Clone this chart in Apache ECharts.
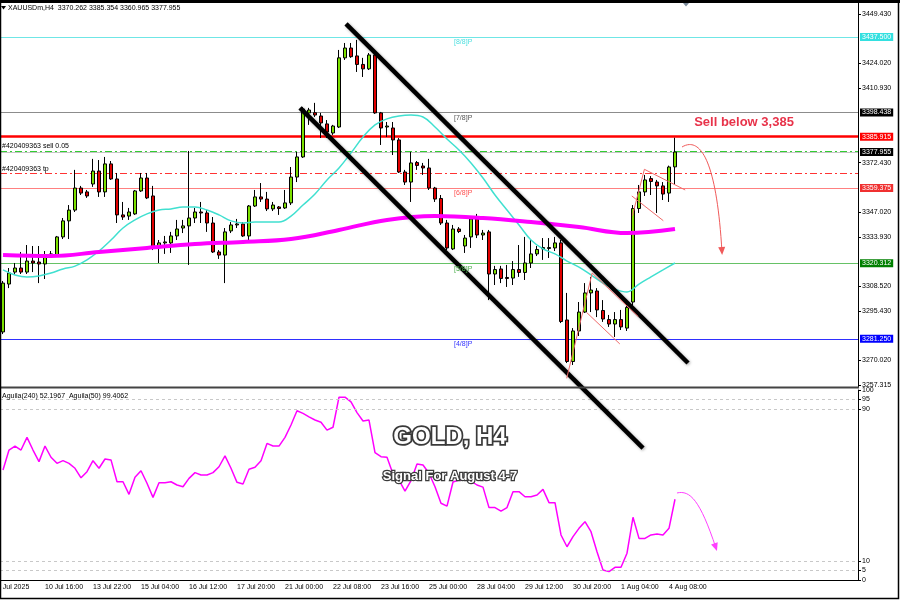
<!DOCTYPE html>
<html><head><meta charset="utf-8">
<script src="https://cdn.jsdelivr.net/npm/echarts@6/dist/echarts.min.js"></script>
<style>html,body{margin:0;padding:0;background:#fff}#c{width:900px;height:600px}</style>
</head><body><div id="c"></div>
<script>
// ---------- DATA ----------
const openP = [3284.8,3309.6,3315.8,3317.9,3315.8,3321.5,3321.0,3320.0,3324.1,3324.1,
3334.0,3342.3,3347.9,3359.3,3357.3,3361.4,3368.1,3357.3,3371.8,3364.0,
3345.4,3344.8,3345.9,3357.8,3364.5,3355.2,3329.3,3330.9,3330.9,3334.5,
3338.6,3339.7,3343.8,3346.9,3346.4,3341.2,3326.2,3324.6,3337.1,3340.2,
3340.7,3334.5,3350.0,3354.7,3353.6,3348.5,3349.5,3349.0,3351.6,3365.0,
3375.4,3398.2,3398.3,3396.6,3392.5,3387.8,3390.9,3426.7,3431.8,3427.7,
3423.3,3421.0,3428.2,3398.2,3390.9,3390.4,3384.2,3367.6,3362.4,3372.5,
3370.7,3369.7,3359.3,3353.9,3341.2,3327.8,3338.1,3329.3,3334.0,3343.3,
3335.0,3336.6,3314.8,3317.4,3313.0,3312.7,3317.1,3315.6,3320.5,3325.2,
3327.8,3328.0,3328.3,3330.9,3291.0,3269.5,3285.3,3295.1,3305.0,3306.0,
3295.9,3291.2,3288.9,3291.2,3286.8,3300.3,3348.7,3357.3,3364.2,3362.4,
3360.4,3356.7,3370.262];
const closeP = [3310.1,3315.3,3317.9,3315.8,3321.5,3320.5,3320.0,3324.6,3325.2,3334.0,
3342.3,3347.9,3359.3,3356.7,3355.2,3368.1,3357.3,3371.8,3364.0,3345.4,
3344.3,3346.9,3357.8,3364.5,3354.2,3328.8,3330.9,3331.4,3334.5,3338.1,
3339.7,3343.8,3346.9,3346.4,3341.2,3326.2,3324.6,3336.6,3340.2,3340.7,
3334.5,3350.0,3354.7,3353.6,3348.5,3350.5,3348.7,3351.6,3365.0,3375.4,
3400.2,3399.7,3397.1,3393.0,3388.3,3391.4,3426.7,3431.8,3427.3,3423.3,
3421.0,3428.2,3398.2,3390.4,3391.4,3384.2,3367.6,3362.4,3372.3,3371.0,
3369.7,3359.3,3353.6,3341.2,3328.3,3338.1,3336.8,3333.4,3343.3,3335.0,
3336.0,3314.8,3317.1,3312.5,3312.5,3317.1,3315.6,3320.5,3325.2,3327.5,
3328.5,3328.5,3330.9,3290.2,3269.5,3285.3,3295.1,3305.0,3306.5,3296.2,
3291.5,3288.9,3291.2,3287.4,3297.5,3348.7,3357.3,3363.5,3362.7,3360.4,
3356.2,3370.2,3377.955];
const highP = [3311.2,3317.9,3320.5,3326.2,3329.8,3329.3,3329.3,3326.7,3326.7,3334.5,
3343.8,3350.5,3368.7,3360.4,3358.3,3374.4,3373.8,3375.4,3373.3,3367.1,
3352.1,3349.0,3358.3,3367.1,3367.1,3360.4,3332.4,3334.5,3336.6,3342.8,
3342.8,3378.5,3349.0,3352.1,3347.9,3344.3,3327.2,3338.6,3341.7,3343.3,
3341.7,3350.5,3358.3,3361.9,3357.3,3352.1,3350.0,3358.3,3370.2,3378.0,
3401.3,3400.8,3403.4,3398.2,3394.5,3392.0,3430.8,3434.4,3434.4,3436.0,
3426.7,3429.2,3429.2,3398.7,3393.5,3393.5,3385.2,3368.7,3378.0,3373.3,
3372.3,3374.4,3359.9,3355.7,3342.8,3340.2,3339.1,3335.0,3343.8,3345.9,
3337.6,3337.6,3319.0,3319.0,3319.5,3321.5,3329.8,3334.0,3332.4,3329.3,
3333.4,3333.4,3334.0,3332.4,3305.0,3286.8,3300.3,3310.1,3313.3,3307.5,
3301.3,3293.6,3295.1,3296.2,3299.8,3350.5,3360.9,3366.1,3365.5,3363.5,
3362.4,3370.9,3385.354];
const lowP = [3283.7,3307.5,3314.3,3314.8,3314.8,3315.8,3310.1,3312.2,3323.1,3323.6,
3332.9,3332.9,3346.9,3355.7,3354.2,3359.9,3354.7,3354.7,3363.5,3341.2,
3342.8,3342.8,3345.4,3357.3,3353.6,3327.2,3320.5,3325.2,3325.7,3332.4,
3336.0,3319.5,3341.2,3341.2,3336.6,3325.7,3322.6,3310.1,3336.0,3338.6,
3334.0,3332.4,3349.5,3352.1,3347.4,3347.4,3345.4,3348.5,3350.5,3362.4,
3374.9,3392.0,3396.1,3385.2,3385.2,3386.8,3390.4,3425.6,3426.7,3419.4,
3416.8,3420.4,3397.7,3381.6,3385.7,3376.4,3367.1,3360.9,3352.1,3368.7,
3366.1,3358.3,3352.1,3340.2,3327.2,3327.2,3336.0,3325.7,3328.3,3333.4,
3332.4,3301.3,3309.1,3310.1,3308.1,3309.1,3313.3,3311.7,3317.9,3324.1,
3322.1,3323.1,3326.7,3289.4,3268.7,3267.7,3282.7,3294.6,3295.1,3292.5,
3290.0,3287.4,3282.2,3285.8,3285.3,3297.7,3346.4,3355.2,3355.7,3346.4,
3353.1,3352.1,3360.965];

const maFastIdx = [0,2,4,6,8,10,12,14,16,18,20,22,24,26,28,30,32,34,36,38,40,42,44,46,48,50,52,54,56,58,60,62,64,66,68,70,72,74,76,78,80,82,84,86,88,90,92,94,96,98,100,102,104,106,108,110,112];
const maFastVal = [3316.9,3314.3,3313.3,3313.8,3315.3,3317.4,3318.9,3322.1,3326.7,3332.4,
3338.6,3342.8,3345.9,3347.9,3348.5,3349.5,3349.5,3347.9,3345.4,3342.3,
3341.2,3341.7,3341.7,3341.7,3344.8,3350.5,3356.2,3363.5,3369.7,3377.5,
3385.7,3392.0,3395.1,3396.6,3397.1,3396.1,3390.9,3384.7,3379.0,3372.3,
3364.5,3355.7,3347.9,3340.2,3332.4,3327.8,3325.2,3321.5,3318.4,3314.3,
3310.1,3307.0,3305.5,3309.6,3313.3,3316.9,3320.5];
const maSlowIdx = [0,8,16,24,32,40,48,56,64,72,80,88,96,104,112];
const maSlowVal = [3324.6,3324.1,3326.2,3328.3,3330.3,3331.4,3332.9,3337.6,3342.8,3344.8,3343.8,3341.7,3339.1,3336.0,3338.1];

const oscVal = [57.9,68.4,70.5,68.4,75.1,68.4,62.3,70.5,64.6,61.4,
62.8,61.4,58.8,53.8,57.0,62.8,58.8,63.7,63.2,51.7,
51.7,45.1,54.1,57.5,50.9,43.5,51.2,51.2,51.7,50.0,
49.1,53.5,56.5,55.3,55.3,56.5,59.6,65.3,58.8,51.4,
50.5,58.3,59.3,62.8,71.9,70.5,70.5,75.1,81.6,89.1,
87.7,85.9,84.2,83.0,78.9,80.4,96.2,96.2,93.8,88.1,
83.7,84.2,67.0,64.9,64.6,55.8,52.6,46.8,52.3,61.1,
60.5,56.2,49.1,40.4,38.9,51.6,52.6,52.6,52.1,50.0,
48.9,38.1,38.1,36.3,38.1,46.5,46.5,43.8,43.8,44.7,
47.7,40.7,40.7,23.7,17.5,22.8,27.2,30.7,25.4,14.9,
5.3,4.4,6.7,6.7,14.1,33.0,21.9,21.9,23.7,24.2,
23.7,27.2,42.5];

const priceTicks = [3449.430,3424.020,3410.930,3372.430,3347.020,3333.930,3308.520,3295.430,3270.020,3257.315];
const oscTicks = [0,5,10,90,95,100];
const oscLevels = [5,10,90,95];
const timeLabelIdx = [-1,7,15,23,31,39,47,55,63,71,79,87,95,103,111];
const timeLabelText = ['9 Jul 2025','10 Jul 16:00','13 Jul 22:00','15 Jul 04:00','16 Jul 12:00','17 Jul 20:00','21 Jul 00:00','22 Jul 08:00','23 Jul 16:00','25 Jul 00:00','28 Jul 04:00','29 Jul 12:00','30 Jul 20:00','1 Aug 04:00','4 Aug 08:00'];

const murrayVals = [3437.500,3398.438,3359.375,3320.312,3281.250];
const murrayText = ['[8/8]P','[7/8]P','[6/8]P','[5/8]P','[4/8]P'];
const sellLevel = 3385.915;
const bidPrice = 3377.955;
const orderPrice = 3378.6;
const tpPrice = 3366.9;

// ---------- CHART ----------
const FF = '"Liberation Sans", Arial, sans-serif';
const N = 143;
const cats = Array.from({length:N}, (_, i) => String(i));
const labelMap = new Map();
timeLabelIdx.forEach((ix, k) => { if (ix >= 0) labelMap.set(ix, timeLabelText[k]); });
const candleData = openP.map((o, i) => [o, closeP[i], lowP[i], highP[i]]);

const chart = echarts.init(document.getElementById('c'), null, {renderer:'canvas', width:900, height:600});

function boxLabel(val, bg, fg) {
  const s = val.toFixed(3);
  return {show:true, position:'end', distance:2, formatter: () => s,
    color: fg || '#fff', backgroundColor: bg, padding:[1,2,0,2], fontSize:7, fontFamily:FF};
}
const murrayColors = ['#6FE6E6','#8C8C8C','#FF8080','#66C266','#2F2FFF'];
const murrayBox = ['#33E0E0','#000000','#F03030','#008000','#0000FF'];

const markData = [];
murrayVals.forEach((v, k) => {
  markData.push({yAxis: v, lineStyle:{color: murrayColors[k], width:1, type:'solid'}, label: boxLabel(v, murrayBox[k])});
});
markData.push({yAxis: sellLevel, lineStyle:{color:'#FF0000', width:2.5, type:'solid'}, label: boxLabel(sellLevel, '#FF0000')});
markData.push({yAxis: bidPrice, lineStyle:{color:'#C4C4C4', width:1, type:'solid'}, label: boxLabel(bidPrice, '#000000')});
markData.push({yAxis: orderPrice, lineStyle:{color:'#33CC33', width:1, type:[7,3,2,3]}, label:{show:false}});
markData.push({yAxis: tpPrice, lineStyle:{color:'#FF3333', width:1, type:[7,3,2,3]}, label:{show:false}});

const option = {
  animation: false,
  backgroundColor: '#ffffff',
  textStyle: {fontFamily: FF},
  grid: [
    {left:0, top:3, width:858, height:384},
    {left:0, top:390, width:858, height:190}
  ],
  xAxis: [
    {type:'category', data:cats, gridIndex:0, boundaryGap:true,
     axisLine:{show:false}, axisTick:{show:false}, axisLabel:{show:false}, splitLine:{show:false}},
    {type:'category', data:cats, gridIndex:1, boundaryGap:true,
     axisLine:{show:true, lineStyle:{color:'#000', width:1}}, axisTick:{show:false},
     axisLabel:{show:true, interval:(i) => labelMap.has(i), formatter:(v) => labelMap.get(Number(v)) || '',
       align:'left', fontSize:7, color:'#000', margin:4, fontFamily:FF},
     splitLine:{show:false}}
  ],
  yAxis: [
    {type:'value', gridIndex:0, position:'right', min:3256.3, max:3455.1, scale:true,
     axisLine:{show:true, lineStyle:{color:'#000', width:1}},
     axisTick:{show:true, length:3, inside:false, customValues: priceTicks, lineStyle:{color:'#000'}},
     axisLabel:{show:true, customValues: priceTicks, formatter: v => Number(v).toFixed(3), fontSize:7, color:'#000', margin:4, fontFamily:FF},
     splitLine:{show:false}},
    {type:'value', gridIndex:1, position:'right', min:0, max:100,
     axisLine:{show:true, lineStyle:{color:'#000', width:1}},
     axisTick:{show:true, length:3, customValues: oscTicks, lineStyle:{color:'#000'}},
     axisLabel:{show:true, customValues: oscTicks, fontSize:7, color:'#000', margin:4, fontFamily:FF},
     splitLine:{show:false}}
  ],
  series: [
    {type:'candlestick', xAxisIndex:0, yAxisIndex:0, data: candleData, barWidth:4, z:3,
     itemStyle:{color:'#7CE000', color0:'#E00000', borderColor:'#000', borderColor0:'#000', borderWidth:1},
     markLine:{symbol:'none', silent:true, animation:false, z:2, data: markData}},
    {type:'line', xAxisIndex:0, yAxisIndex:0, data: maFastIdx.map((x, k) => [x, maFastVal[k]]),
     smooth:0.4, symbol:'none', z:4, lineStyle:{color:'#40E0D0', width:1.5}},
    {type:'line', xAxisIndex:0, yAxisIndex:0, data: maSlowIdx.map((x, k) => [x, maSlowVal[k]]),
     smooth:0.4, symbol:'none', z:4, lineStyle:{color:'#FF00FF', width:4}},
    {type:'line', xAxisIndex:1, yAxisIndex:1, data: oscVal, symbol:'none', z:4,
     lineStyle:{color:'#FF00FF', width:1.5},
     markLine:{symbol:'none', silent:true, animation:false,
       data: oscLevels.map(v => ({yAxis:v})), lineStyle:{color:'#C8C8C8', width:1, type:[3,3]}, label:{show:false}}}
  ]
};
chart.setOption(option);

// ---------- ANNOTATIONS (data coords, converted with the chart's scales) ----------
const channelUpper = [[57.17,3444.25],[114.17,3268.72]];
const channelLower = [[49.5,3400.76],[106.67,3224.7]];
const flagLines = [
  [[93.95,3260.8],[98.2,3315.3]],
  [[98.2,3315.3],[105.9,3292.7]],
  [[97.3,3294.8],[102.8,3278.6]],
  [[104.8,3355.2],[110.05,3342.4]],
  [[106.9,3369.0],[113.7,3358.3]],
  [[104.9,3345.0],[106.9,3369.0]]
];
const arrowMain = [[113.17,3380.56],[115.67,3385.22],[118.83,3379.01],[119.83,3326.2]];
const arrowOsc = [[112.33,45.8],[114.5,47.4],[116.17,42.1],[118.83,16.8]];
const sellText = {idx:123.5, price:3393.5, text:'Sell below 3,385'};

const x0 = chart.convertToPixel({xAxisIndex:0}, 0);
const x1 = chart.convertToPixel({xAxisIndex:0}, 1);
const step = x1 - x0;
const P = (d) => [x0 + d[0]*step, chart.convertToPixel({yAxisIndex:0}, d[1])];
const Q = (d) => [x0 + d[0]*step, chart.convertToPixel({yAxisIndex:1}, d[1])];

const g = [];
function seg(a, b, color, w, extra) {
  g.push(Object.assign({type:'line', silent:true, z:100, shape:{x1:a[0],y1:a[1],x2:b[0],y2:b[1]},
    style:{stroke:color, lineWidth:w}}, extra || {}));
}
function txt(x, y, text, st, z) {
  g.push({type:'text', silent:true, z: z || 110, x:x, y:y,
    style: Object.assign({text:text, fill:'#000', fontSize:7, fontFamily:FF, align:'left', verticalAlign:'middle'}, st || {})});
}
function arrow(pts, conv, color) {
  const p = pts.map(conv);
  g.push({type:'bezierCurve', silent:true, z:100,
    shape:{x1:p[0][0], y1:p[0][1], cpx1:p[1][0], cpy1:p[1][1], cpx2:p[2][0], cpy2:p[2][1], x2:p[3][0], y2:p[3][1]},
    style:{stroke:color, lineWidth:1, fill:null}});
  let dx = p[3][0]-p[2][0], dy = p[3][1]-p[2][1];
  const L = Math.hypot(dx, dy); dx /= L; dy /= L;
  const tip = [p[3][0]+dx*3, p[3][1]+dy*3];
  const bc = [p[3][0]-dx*5, p[3][1]-dy*5];
  g.push({type:'polygon', silent:true, z:100,
    shape:{points:[tip, [bc[0]-dy*3.5, bc[1]+dx*3.5], [bc[0]+dy*3.5, bc[1]-dx*3.5]]},
    style:{fill:color}});
}

// channel lines
const chanStyle = {style:{stroke:'#000', lineWidth:4.5, shadowColor:'rgba(0,0,0,0.35)', shadowBlur:3, shadowOffsetX:1, shadowOffsetY:1}};
seg(P(channelUpper[0]), P(channelUpper[1]), '#000', 4.5, chanStyle);
seg(P(channelLower[0]), P(channelLower[1]), '#000', 4.5, chanStyle);
// flag lines
flagLines.forEach(l => seg(P(l[0]), P(l[1]), '#F06A6A', 1));
// arrows
arrow(arrowMain, P, '#F05A5A');
arrow(arrowOsc, Q, '#FF40FF');

// murray labels
const murrayTextColors = ['#4FE0E0','#555555','#FF5050','#4CAF4C','#3333FF'];
murrayVals.forEach((v, k) => {
  const pp = P([75.17, v]);
  txt(pp[0], pp[1] + 5.5, murrayText[k], {fill: murrayTextColors[k]});
});
// order labels
txt(2, P([0, orderPrice])[1] - 5, '#420409363 sell 0.05');
txt(2, P([0, tpPrice])[1] - 4, '#420409363 tp');
// sell text
const sp = P([sellText.idx, sellText.price]);
txt(sp[0], sp[1], sellText.text, {fill:'#E8334A', fontSize:13, fontWeight:'bold', align:'center'});

// headers
txt(8, 8, 'XAUUSDm,H4  3370.262 3385.354 3360.965 3377.955');
g.push({type:'polygon', silent:true, z:110, shape:{points:[[1,6],[6,6],[3.5,9.5]]}, style:{fill:'#000'}});
txt(2, 396.5, 'Aguila(240) 52.1967  Aguila(50) 99.4062');

// big title texts
txt(450, 437, 'GOLD, H4', {fill:'#fff', fontSize:24, fontWeight:'bold', fontFamily:'"Liberation Sans", Arial, sans-serif',
  align:'center', stroke:'#3a3a3a', lineWidth:3.5, strokeFirst:true,
  shadowColor:'rgba(0,0,0,0.55)', shadowBlur:2, shadowOffsetX:2, shadowOffsetY:2}, 120);
txt(450, 476, 'Signal For August 4-7', {fill:'#fff', fontSize:13, fontWeight:'bold',
  align:'center', stroke:'#3a3a3a', lineWidth:2.5, strokeFirst:true,
  shadowColor:'rgba(0,0,0,0.5)', shadowBlur:2, shadowOffsetX:1.5, shadowOffsetY:1.5}, 120);

// first (clipped) time label
txt(x0 + timeLabelIdx[0]*step, 587.5, timeLabelText[0]);

// panel separator and frame
g.push({type:'line', silent:true, z:150, shape:{x1:0, y1:387.5, x2:859, y2:387.5}, style:{stroke:'#444', lineWidth:2}});
g.push({type:'rect', silent:true, z:200, shape:{x:0.5, y:1, width:898, height:597.5}, style:{fill:null, stroke:'#000', lineWidth:1.5}});
g.push({type:'line', silent:true, z:200, shape:{x1:0, y1:1.5, x2:900, y2:1.5}, style:{stroke:'#000', lineWidth:3}});
g.push({type:'polygon', silent:true, z:150, shape:{points:[[683,3],[689,3],[686,6.5]]}, style:{fill:'#7A8A9A'}});

chart.setOption({graphic: g});
</script>
</body></html>
